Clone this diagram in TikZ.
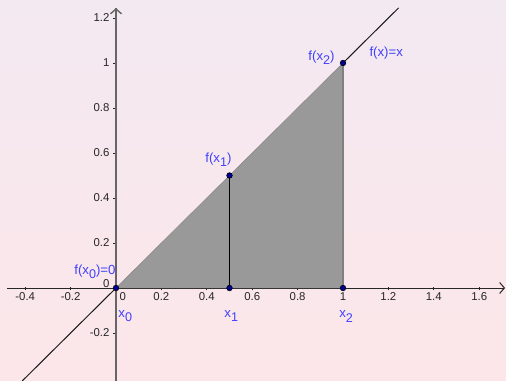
\documentclass[tikz,border=0pt]{standalone}
\usepackage{fontspec}
\setmainfont{Liberation Sans}
\usepackage{xcolor}
\usetikzlibrary{arrows.meta}
\definecolor{bgtop}{RGB}{243,233,241}
\definecolor{bgbot}{RGB}{252,230,233}
\definecolor{lblue}{RGB}{64,64,255}
\definecolor{ptblue}{RGB}{0,0,150}
\newcommand{\lsub}[1]{\raisebox{-0.7ex}{\fontsize{6.3}{6}\selectfont#1}}

\begin{document}
\begin{tikzpicture}[x=113.5pt,y=112.5pt,>={Straight Barb[length=2.4pt,width=5.5pt]},
pt/.style={circle,draw=black,fill=ptblue,inner sep=0pt,minimum size=2.8pt,line width=0.3pt},
lbl/.style={text=lblue,font=\fontsize{6.6}{7}\selectfont,inner sep=0pt},
tk/.style={font=\fontsize{5.7}{6}\selectfont,text=black!85,inner sep=0pt}]
\shade[top color=bgtop,bottom color=bgbot](-0.511,-0.413)rectangle(1.718,1.28);
\useasboundingbox(-0.511,-0.413)rectangle(1.718,1.28);
% axes and ticks
\draw[->,black!85,line width=0.5pt](-0.48,0)--(1.714,0);
\foreach \x in {-0.4,-0.2,0.2,0.4,0.6,0.8,1,1.2,1.4,1.6}{
\draw[black!85,line width=0.4pt](\x,-0.009)--(\x,0.006);
\node[tk,anchor=north] at (\x,-0.019) {\x};}
\node[tk,anchor=north] at (0.03,-0.019) {0};
\foreach \y in {-0.2,0.2,0.4,0.6,0.8,1,1.2}{
\draw[black!85,line width=0.4pt](-0.012,\y)--(0,\y);
\node[tk,anchor=east] at (-0.027,\y) {\y};}
\node[tk,anchor=east] at (-0.027,0.02) {0};
% points
\coordinate (x0) at (0,0);
\coordinate (x1) at (0.5,0);
\coordinate (x2) at (1,0);
\coordinate (f1) at (0.5,0.5);
\coordinate (f2) at (1,1);
% f(x)=x and the area
\draw[black!90,line width=0.5pt](-0.413,-0.413)--(x0);
\draw[black!90,line width=0.5pt](f2)--(1.245,1.245);
\fill[black!40](x0)--(x2)--(f2)--cycle;
\draw[black!45,line width=0.3pt](x0)--(f2);
\draw[black!50,line width=1pt](x2)--(f2);
\draw[black!60,line width=0.7pt](0,-0.413)--(0,1.244);
\draw[->,black!60,line width=0.7pt](0,1.1)--(0,1.244);
\draw[black,line width=0.5pt](x1)--(f1);
\foreach \p in {x0,x1,x2,f1,f2} \node[pt] at (\p) {};
% labels
\node[lbl,anchor=base west] (l0) at (-0.185,0.062) {f(x\lsub{0})=0};
\node[lbl,anchor=base west] (lx0) at (0.009,-0.129) {x\lsub{0}};
\node[lbl,anchor=base west] (lx1) at (0.476,-0.129) {x\lsub{1}};
\node[lbl,anchor=base west] (lx2) at (0.982,-0.133) {x\lsub{2}};
\node[lbl,anchor=base west] (lf1) at (0.392,0.56) {f(x\lsub{1})};
\node[lbl,anchor=base west] (lf2) at (0.846,1.013) {f(x\lsub{2})};
\node[lbl,anchor=base west] (lf) at (1.115,1.027) {f(x)=x};
\end{tikzpicture}
\end{document}
